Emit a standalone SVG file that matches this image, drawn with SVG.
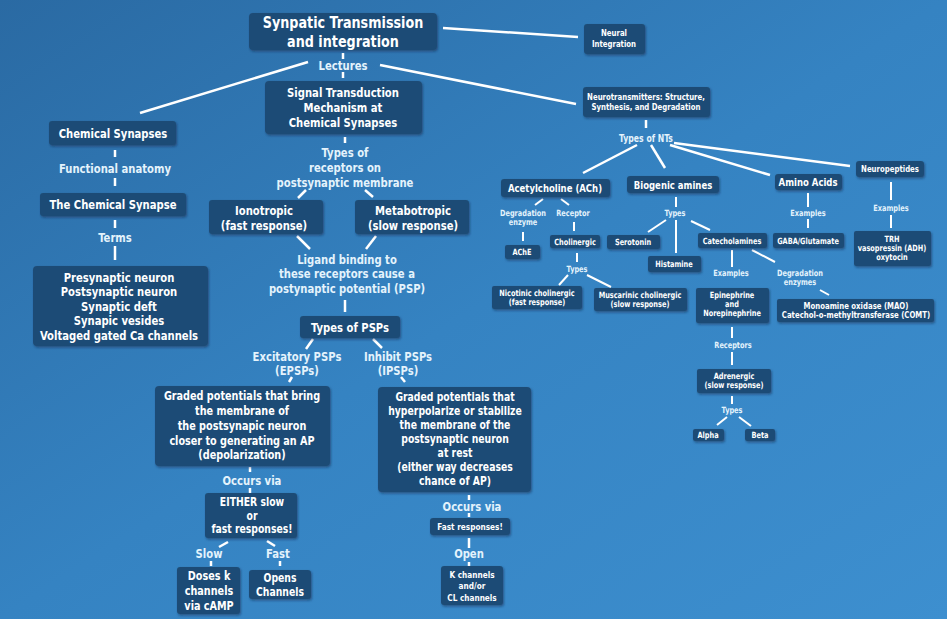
<svg xmlns="http://www.w3.org/2000/svg" width="947" height="619" viewBox="0 0 947 619">
<defs>
<linearGradient id="bg" x1="0" y1="0" x2="1" y2="1">
<stop offset="0" stop-color="#2a6aa3"/>
<stop offset="0.5" stop-color="#3583c2"/>
<stop offset="1" stop-color="#3d8fcf"/>
</linearGradient>
<filter id="sh" x="-10%" y="-10%" width="130%" height="140%">
<feDropShadow dx="1" dy="1.5" stdDeviation="1.2" flood-color="#0a2440" flood-opacity="0.5"/>
</filter>
</defs>
<style>
.n{fill:#1f4c76;filter:url(#sh)}
text{font-family:"DejaVu Sans Condensed","DejaVu Sans",sans-serif;font-stretch:condensed;font-weight:bold;text-anchor:middle;fill:#ffffff;transform-box:fill-box;transform-origin:center;transform:scaleX(0.86)}
.l{fill:#e4f3fc}
.c line{stroke:#ffffff;stroke-width:2.5;stroke-linecap:butt}
.c .s{stroke-width:2}
</style>
<rect width="947" height="619" fill="url(#bg)"/>

<g class="c">
<line x1="443" y1="28" x2="578" y2="37"/>
<line x1="343" y1="53" x2="343" y2="59"/>
<line x1="343" y1="72" x2="343" y2="78"/>
<line x1="308" y1="62" x2="140" y2="113"/>
<line x1="380" y1="65" x2="576" y2="104"/>
<line x1="115" y1="150" x2="115" y2="157"/>
<line x1="115" y1="178" x2="115" y2="186"/>
<line x1="115" y1="220" x2="115" y2="228"/>
<line x1="115" y1="246" x2="115" y2="260"/>
<line x1="345" y1="137" x2="345" y2="143"/>
<line x1="306" y1="190" x2="298" y2="198"/>
<line x1="365" y1="190" x2="373" y2="197"/>
<line x1="297" y1="236" x2="310" y2="249"/>
<line x1="376" y1="236" x2="366" y2="249"/>
<line x1="345" y1="300" x2="345" y2="312"/>
<line x1="313" y1="339" x2="306" y2="349"/>
<line x1="373" y1="339" x2="382" y2="348"/>
<line x1="292" y1="377" x2="289" y2="382"/>
<line x1="401" y1="377" x2="405" y2="382"/>
<line x1="250" y1="467" x2="250" y2="472"/>
<line x1="250" y1="488" x2="250" y2="494"/>
<line x1="228" y1="542" x2="219" y2="547"/>
<line x1="267" y1="541" x2="275" y2="546"/>
<line x1="211" y1="561" x2="211" y2="566"/>
<line x1="280" y1="561" x2="280" y2="566"/>
<line x1="469" y1="495" x2="469" y2="500"/>
<line x1="469" y1="513" x2="469" y2="517"/>
<line x1="469" y1="538" x2="469" y2="548"/>
<line x1="469" y1="562" x2="469" y2="566"/>
<line x1="646" y1="120" x2="646" y2="128"/>
<line x1="637" y1="145" x2="583" y2="173"/>
<line x1="651" y1="145" x2="665" y2="168"/>
<line x1="670" y1="145" x2="770" y2="175"/>
<line x1="674" y1="143" x2="850" y2="166"/>
<line class="s" x1="543" y1="199" x2="535" y2="205"/>
<line class="s" x1="561" y1="199" x2="569" y2="205"/>
<line class="s" x1="523" y1="232" x2="523" y2="241"/>
<line class="s" x1="574" y1="222" x2="574" y2="231"/>
<line class="s" x1="577" y1="253" x2="577" y2="262"/>
<line class="s" x1="568" y1="275" x2="559" y2="285"/>
<line class="s" x1="587" y1="275" x2="611" y2="287"/>
<line class="s" x1="676" y1="197" x2="676" y2="207"/>
<line class="s" x1="666" y1="220" x2="648" y2="232"/>
<line class="s" x1="676" y1="220" x2="676" y2="253"/>
<line class="s" x1="691" y1="221" x2="710" y2="230"/>
<line class="s" x1="732" y1="250" x2="732" y2="267"/>
<line class="s" x1="752" y1="250" x2="775" y2="262"/>
<line class="s" x1="820" y1="290" x2="829" y2="295"/>
<line class="s" x1="732" y1="327" x2="732" y2="338"/>
<line class="s" x1="732" y1="352" x2="732" y2="365"/>
<line class="s" x1="732" y1="396" x2="732" y2="404"/>
<line class="s" x1="727" y1="417" x2="717" y2="425"/>
<line class="s" x1="739" y1="417" x2="751" y2="426"/>
<line class="s" x1="808" y1="193" x2="808" y2="207"/>
<line class="s" x1="808" y1="219" x2="808" y2="228"/>
<line class="s" x1="891" y1="182" x2="891" y2="200"/>
<line class="s" x1="891" y1="215" x2="891" y2="228"/>
</g>

<g id="title"><rect class="n" x="249" y="13" width="188" height="37" rx="4"/>
<text x="343" y="28.5" font-size="16.5">Synpatic Transmission</text>
<text x="343" y="47.5" font-size="16.5">and integration</text></g>

<g id="neural"><rect class="n" x="584" y="24" width="61" height="30" rx="3"/>
<text x="614" y="36" font-size="9">Neural</text>
<text x="614" y="47" font-size="9">Integration</text></g>

<g id="lectures"><text class="l" x="343" y="70" font-size="13">Lectures</text></g>

<g id="signal"><rect class="n" x="265" y="81" width="157" height="53" rx="4"/>
<text x="343" y="97" font-size="13">Signal Transduction</text>
<text x="343" y="112" font-size="13">Mechanism at</text>
<text x="343" y="127" font-size="13">Chemical Synapses</text></g>

<g id="chem"><rect class="n" x="49" y="121" width="127" height="24" rx="3"/>
<text x="113" y="138" font-size="13">Chemical Synapses</text></g>

<g id="funcanat"><text class="l" x="115" y="173" font-size="13">Functional anatomy</text></g>

<g id="thechem"><rect class="n" x="40" y="193" width="146" height="23" rx="3"/>
<text x="113" y="209" font-size="13">The Chemical Synapse</text></g>

<g id="terms"><text class="l" x="115" y="242" font-size="13">Terms</text></g>

<g id="termsbox"><rect class="n" x="33" y="266" width="175" height="80" rx="4"/>
<text x="119" y="282" font-size="13">Presynaptic neuron</text>
<text x="119" y="296" font-size="13">Postsynaptic neuron</text>
<text x="119" y="311" font-size="13">Synaptic deft</text>
<text x="119" y="325" font-size="13">Synapic vesides</text>
<text x="119" y="340" font-size="13">Voltaged gated Ca channels</text></g>

<g id="typesrec"><text class="l" x="345" y="157" font-size="13">Types of</text>
<text class="l" x="345" y="172" font-size="13">receptors on</text>
<text class="l" x="345" y="187" font-size="13">postsynaptic membrane</text></g>

<g id="iono"><rect class="n" x="209" y="200" width="114" height="34" rx="3"/>
<text x="264" y="215" font-size="13">Ionotropic</text>
<text x="264" y="230" font-size="13">(fast response)</text></g>

<g id="meta"><rect class="n" x="355" y="200" width="114" height="34" rx="3"/>
<text x="413" y="215" font-size="13">Metabotropic</text>
<text x="413" y="230" font-size="13">(slow response)</text></g>

<g id="ligand"><text class="l" x="347" y="264" font-size="13">Ligand binding to</text>
<text class="l" x="347" y="278" font-size="13">these receptors cause a</text>
<text class="l" x="347" y="293" font-size="13">postynaptic potential (PSP)</text></g>

<g id="typespsp"><rect class="n" x="300" y="316" width="100" height="22" rx="3"/>
<text x="350" y="332" font-size="13">Types of PSPs</text></g>

<g id="epsplabel"><text class="l" x="297" y="361" font-size="13">Excitatory PSPs</text>
<text class="l" x="297" y="375" font-size="13">(EPSPs)</text></g>

<g id="ipsplabel"><text class="l" x="398" y="361" font-size="13">Inhibit PSPs</text>
<text class="l" x="398" y="375" font-size="13">(IPSPs)</text></g>

<g id="epspbox"><rect class="n" x="155" y="386" width="175" height="80" rx="4"/>
<text x="242" y="400" font-size="12.5">Graded potentials that bring</text>
<text x="242" y="415" font-size="12.5">the membrane of</text>
<text x="242" y="430" font-size="12.5">the postsynapic neuron</text>
<text x="242" y="445" font-size="12.5">closer to generating an AP</text>
<text x="242" y="459" font-size="12.5">(depolarization)</text></g>

<g id="ipspbox"><rect class="n" x="378" y="387" width="153" height="105" rx="4"/>
<text x="455" y="401" font-size="12">Graded potentials that</text>
<text x="455" y="415" font-size="12">hyperpolarize or stabilize</text>
<text x="455" y="429" font-size="12">the membrane of the</text>
<text x="455" y="443" font-size="12">postsynaptic neuron</text>
<text x="455" y="457" font-size="12">at rest</text>
<text x="455" y="471" font-size="12">(either way decreases</text>
<text x="455" y="485" font-size="12">chance of AP)</text></g>

<g id="occurs1"><text class="l" x="252" y="485" font-size="13">Occurs via</text></g>

<g id="either"><rect class="n" x="205" y="493" width="92" height="45" rx="3"/>
<text x="252" y="506" font-size="12">EITHER slow</text>
<text x="252" y="520" font-size="12">or</text>
<text x="252" y="533" font-size="12">fast responses!</text></g>

<g id="slow"><text class="l" x="209" y="558" font-size="13">Slow</text></g>
<g id="fast"><text class="l" x="278" y="558" font-size="13">Fast</text></g>

<g id="doses"><rect class="n" x="177" y="567" width="63" height="47" rx="3"/>
<text x="209" y="580" font-size="12.5">Doses k</text>
<text x="209" y="595" font-size="12.5">channels</text>
<text x="209" y="610" font-size="12.5">via cAMP</text></g>

<g id="opens"><rect class="n" x="249" y="570" width="62" height="29" rx="3"/>
<text x="280" y="582" font-size="12">Opens</text>
<text x="280" y="596" font-size="12">Channels</text></g>

<g id="occurs2"><text class="l" x="472" y="511" font-size="13">Occurs via</text></g>

<g id="fastresp"><rect class="n" x="430" y="518" width="80" height="17" rx="3"/>
<text x="470" y="530" font-size="9.5">Fast responses!</text></g>

<g id="open"><text class="l" x="469" y="558" font-size="13">Open</text></g>

<g id="kch"><rect class="n" x="441" y="566" width="62" height="39" rx="3"/>
<text x="472" y="578" font-size="9.5">K channels</text>
<text x="472" y="589" font-size="9.5">and/or</text>
<text x="472" y="601" font-size="9.5">CL channels</text></g>

<g id="ntbox"><rect class="n" x="583" y="87" width="127" height="30" rx="3"/>
<text x="646" y="100" font-size="9">Neurotransmitters: Structure,</text>
<text x="646" y="110" font-size="9">Synthesis, and Degradation</text></g>

<g id="typesnt"><text class="l" x="646" y="142" font-size="10">Types of NTs</text></g>

<g id="ach"><rect class="n" x="501" y="179" width="109" height="18" rx="3"/>
<text x="555" y="192" font-size="11">Acetylcholine (ACh)</text></g>

<g id="biogenic"><rect class="n" x="627" y="176" width="92" height="17" rx="3"/>
<text x="673" y="189" font-size="11">Biogenic amines</text></g>

<g id="amino"><rect class="n" x="775" y="174" width="67" height="16" rx="3"/>
<text x="808" y="186" font-size="11">Amino Acids</text></g>

<g id="neuropep"><rect class="n" x="856" y="161" width="68" height="16" rx="3"/>
<text x="890" y="172" font-size="9">Neuropeptides</text></g>

<g id="degenz1"><text class="l" x="523" y="216" font-size="8.5">Degradation</text>
<text class="l" x="523" y="225" font-size="8.5">enzyme</text></g>

<g id="receptor1"><text class="l" x="573" y="216" font-size="8.5">Receptor</text></g>

<g id="ache"><rect class="n" x="505" y="245" width="35" height="14" rx="2"/>
<text x="522" y="255" font-size="8.5">AChE</text></g>

<g id="cholinergic"><rect class="n" x="550" y="235" width="50" height="13" rx="2"/>
<text x="575" y="245" font-size="8.5">Cholinergic</text></g>

<g id="types1"><text class="l" x="577" y="272" font-size="8.5">Types</text></g>

<g id="nicotinic"><rect class="n" x="492" y="286" width="90" height="23" rx="2"/>
<text x="537" y="296" font-size="8.5">Nicotinic cholinergic</text>
<text x="537" y="305" font-size="8.5">(fast response)</text></g>

<g id="muscarinic"><rect class="n" x="594" y="288" width="93" height="23" rx="2"/>
<text x="640" y="298" font-size="8.5">Muscarinic cholinergic</text>
<text x="640" y="307" font-size="8.5">(slow response)</text></g>

<g id="types2"><text class="l" x="675" y="216" font-size="8.5">Types</text></g>

<g id="serotonin"><rect class="n" x="607" y="235" width="53" height="14" rx="2"/>
<text x="633" y="245" font-size="8.5">Serotonin</text></g>

<g id="histamine"><rect class="n" x="648" y="256" width="53" height="16" rx="2"/>
<text x="674" y="267" font-size="8.5">Histamine</text></g>

<g id="catechol"><rect class="n" x="698" y="233" width="69" height="15" rx="2"/>
<text x="732" y="244" font-size="8.5">Catecholamines</text></g>

<g id="examples1"><text class="l" x="731" y="276" font-size="8.5">Examples</text></g>

<g id="degenz2"><text class="l" x="800" y="276" font-size="8.5">Degradation</text>
<text class="l" x="800" y="285" font-size="8.5">enzymes</text></g>

<g id="epi"><rect class="n" x="696" y="288" width="73" height="35" rx="2"/>
<text x="732" y="298" font-size="8.5">Epinephrine</text>
<text x="732" y="307" font-size="8.5">and</text>
<text x="732" y="316" font-size="8.5">Norepinephrine</text></g>

<g id="mao"><rect class="n" x="777" y="299" width="157" height="23" rx="2"/>
<text x="856" y="309" font-size="9">Monoamine oxidase (MAO)</text>
<text x="856" y="318" font-size="9">Catechol-o-methyltransferase (COMT)</text></g>

<g id="receptors2"><text class="l" x="733" y="348" font-size="8.5">Receptors</text></g>

<g id="adrenergic"><rect class="n" x="697" y="369" width="74" height="24" rx="2"/>
<text x="734" y="379" font-size="8.5">Adrenergic</text>
<text x="734" y="388" font-size="8.5">(slow response)</text></g>

<g id="types3"><text class="l" x="732" y="413" font-size="8.5">Types</text></g>

<g id="alpha"><rect class="n" x="693" y="429" width="31" height="12" rx="2"/>
<text x="708" y="438" font-size="8.5">Alpha</text></g>

<g id="beta"><rect class="n" x="745" y="429" width="30" height="12" rx="2"/>
<text x="760" y="438" font-size="8.5">Beta</text></g>

<g id="examples2"><text class="l" x="808" y="216" font-size="8.5">Examples</text></g>

<g id="gaba"><rect class="n" x="773" y="233" width="71" height="15" rx="2"/>
<text x="808" y="244" font-size="8.5">GABA/Glutamate</text></g>

<g id="examples3"><text class="l" x="891" y="211" font-size="8.5">Examples</text></g>

<g id="trh"><rect class="n" x="854" y="231" width="77" height="35" rx="2"/>
<text x="892" y="242" font-size="8.5">TRH</text>
<text x="892" y="251" font-size="8.5">vasopressin (ADH)</text>
<text x="892" y="260" font-size="8.5">oxytocin</text></g>
</svg>
